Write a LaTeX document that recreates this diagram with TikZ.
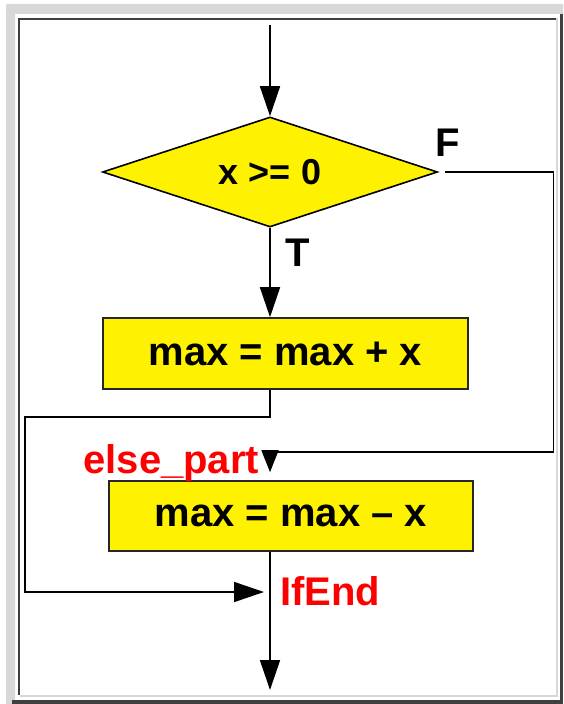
\documentclass[tikz,border=0pt]{standalone}
\usepackage{fontspec}
\setmainfont{Liberation Sans}
\usetikzlibrary{positioning, arrows.meta, shapes.geometric}
\definecolor{framelight}{HTML}{D8D8D8}
\definecolor{framedark}{HTML}{404040}

\begin{document}
\begin{tikzpicture}[
  x=0.5pt, y=-0.5pt,
  % --- Style definitions ---
  decision/.style={diamond, draw=black, fill=yellow, line width=0.8pt, inner sep=0pt, aspect=3,
                   minimum width=167.5pt, minimum height=55pt, font=\fontsize{18}{20}\selectfont\bfseries},
  stmt/.style={rectangle, draw=black!85, fill=yellow, line width=0.8pt, inner sep=0pt,
               minimum width=182.5pt, minimum height=35.5pt, font=\fontsize{20}{22}\selectfont\bfseries},
  arr/.style={-{Triangle[length=15pt, width=10pt]}, line width=0.8pt},
  arrs/.style={-{Triangle[length=11pt, width=8.5pt]}, line width=0.8pt},
  branch/.style={font=\fontsize{20}{22}\selectfont\bfseries, inner sep=0pt, anchor=base west},
  tag/.style={branch, text=red},
]

\useasboundingbox (0,0) rectangle (563,704);

% ===== Frame =====
\fill[white] (0,0) rectangle (563,704);
\fill[framelight] (6,4) -- (563,4) -- (563,14) -- (15,14) -- (15,704) -- (6,704) -- cycle;
\fill[framedark] (560,14) rectangle (563,704);
\fill[framedark] (12,700) rectangle (563,704);
\fill[framedark] (18,18) rectangle (20,695);
\fill[framedark] (18,18) rectangle (556,20);
\fill[framelight] (556,18) rectangle (558,697);
\fill[framelight] (20,695) rectangle (558,697);

% ===== Nodes =====
\coordinate (entry) at (270,25);
\node[decision] (cond) at (270,172) {x >= 0};
\node[stmt] (add) at (285.5,353.5) {max = max + x};
\node[stmt, minimum width=182pt, minimum height=35pt] (sub) at (291,516) {max = max -- x};
\coordinate (elsept) at (270,452);
\coordinate (ifend) at (270,592);
\coordinate (exit) at (270,690);

% --- Labels ---
\node[branch] (flbl) at (435,157) {F};
\node[branch] (tlbl) at (285,267) {T};
\node[tag] (elselbl) at (83,473) {else\_part};
\node[tag] (endlbl) at (280,605) {IfEnd};

% ===== Arrows =====
\draw[arr] (entry) -- (cond.north);
\draw[arr] (cond.south) -- (cond.south |- add.north);

% false branch to else part
\draw[arrs, shorten <=3.5pt, shorten >=4pt] (cond.east) -- ++(115,0) |- (elsept) -- (elsept |- sub.north);

% then part jumps to IfEnd
\draw[arr, shorten >=3pt] (cond.south |- add.south) -- ++(0,27) -- ++(-245,0) |- (ifend);

% out of else part
\draw[arr] (cond.south |- sub.south) -- (exit);

\end{tikzpicture}
\end{document}
